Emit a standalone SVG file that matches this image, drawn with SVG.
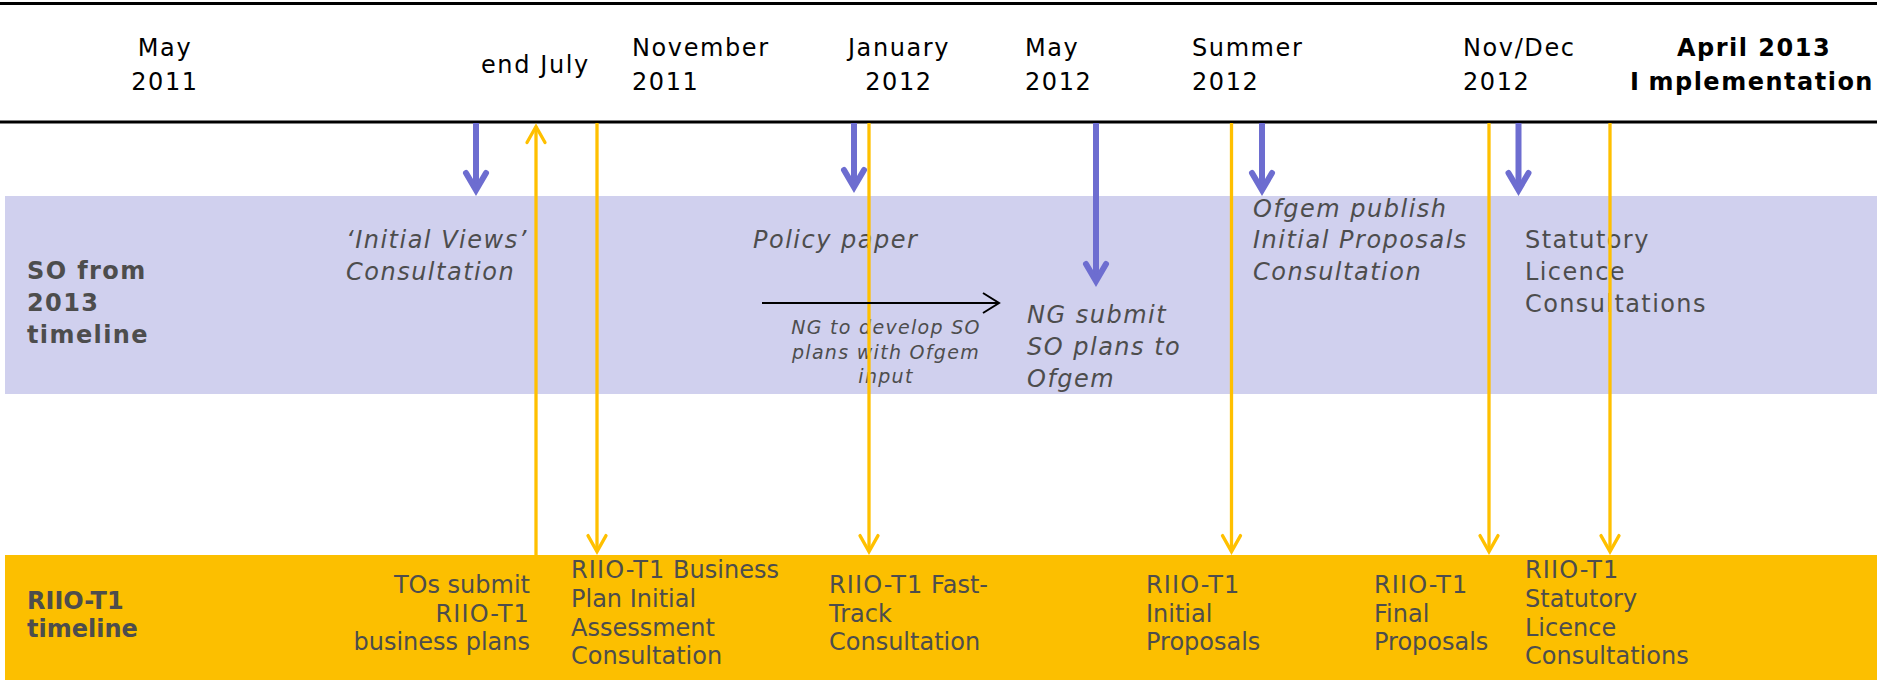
<svg xmlns="http://www.w3.org/2000/svg" width="1877" height="682" viewBox="0 0 1877 682">
  <style>
    .hdr { font-family: "DejaVu Sans", Verdana, sans-serif; font-size: 24px; fill: #000; letter-spacing: 1.6px; }
    .hdrb { font-family: "DejaVu Sans", Verdana, sans-serif; font-size: 24px; font-weight: bold; fill: #000; letter-spacing: 1.5px; }
    .lbl { font-family: "DejaVu Sans", Verdana, sans-serif; font-size: 24px; fill: #4d4d4d; }
    .lblb { font-family: "DejaVu Sans", Verdana, sans-serif; font-size: 24px; font-weight: bold; fill: #4d4d4d; }
    .it { font-family: "DejaVu Sans", Verdana, sans-serif; font-size: 24px; font-style: italic; fill: #4d4d4d; letter-spacing: 1.5px; }
    .small { font-family: "DejaVu Sans", Verdana, sans-serif; font-size: 19px; font-style: italic; fill: #4d4d4d; letter-spacing: 1.3px; }
    .wide { letter-spacing: 1.4px; }
    .code { letter-spacing: 1.1px; }
    .mid { text-anchor: middle; }
    .end { text-anchor: end; }
    .so { stroke: #6d6dd0; stroke-width: 6; fill: none; }
    .riio { stroke: #ffc000; stroke-width: 3.3; fill: none; }
    .flow { stroke: #000; stroke-width: 2; fill: none; }
  </style>
  <defs>
    <marker id="soHead" markerUnits="userSpaceOnUse" orient="auto" overflow="visible" refX="0" refY="0" markerWidth="1" markerHeight="1">
      <path d="M-17,-10 L0,0 L-17,10" fill="none" stroke="#6d6dd0" stroke-width="6" stroke-linecap="round" stroke-linejoin="miter"/>
    </marker>
    <marker id="riioHead" markerUnits="userSpaceOnUse" orient="auto" overflow="visible" refX="0" refY="0" markerWidth="1" markerHeight="1">
      <path d="M-16,-9 L0,0 L-16,9" fill="none" stroke="#ffc000" stroke-width="3.3" stroke-linecap="round" stroke-linejoin="miter"/>
    </marker>
    <marker id="flowHead" markerUnits="userSpaceOnUse" orient="auto" overflow="visible" refX="0" refY="0" markerWidth="1" markerHeight="1">
      <path d="M-16,-10 L0,0 L-16,10" fill="none" stroke="#000" stroke-width="2" stroke-linejoin="miter"/>
    </marker>
  </defs>

  <rect x="0" y="0" width="1877" height="682" fill="#fff"/>

  <!-- swimlane backgrounds -->
  <g id="lane-so">
    <rect x="5" y="196" width="1872" height="198" fill="#d0d0ee"/>
    <text class="lblb wide" x="27" y="279">SO from</text>
    <text class="lblb wide" x="27" y="311">2013</text>
    <text class="lblb wide" x="27" y="343">timeline</text>
  </g>
  <g id="lane-riio">
    <rect x="5" y="555" width="1872" height="125" fill="#fcbf00"/>
    <text class="lblb" x="27" y="609">RIIO-T1</text>
    <text class="lblb" x="27" y="637">timeline</text>
  </g>

  <!-- date header -->
  <g id="header">
    <line x1="0" y1="3.5" x2="1877" y2="3.5" stroke="#000" stroke-width="3"/>
    <line x1="0" y1="122" x2="1877" y2="122" stroke="#000" stroke-width="3"/>
    <g id="date-may-2011">
      <text class="hdr mid" x="165" y="56">May</text>
      <text class="hdr mid" x="165" y="90">2011</text>
    </g>
    <g id="date-end-july">
      <text class="hdr" x="481" y="73">end July</text>
    </g>
    <g id="date-nov-2011">
      <text class="hdr" x="632" y="56">November</text>
      <text class="hdr" x="632" y="90">2011</text>
    </g>
    <g id="date-jan-2012">
      <text class="hdr mid" x="899" y="56">January</text>
      <text class="hdr mid" x="899" y="90">2012</text>
    </g>
    <g id="date-may-2012">
      <text class="hdr" x="1025" y="56">May</text>
      <text class="hdr" x="1025" y="90">2012</text>
    </g>
    <g id="date-summer-2012">
      <text class="hdr" x="1192" y="56">Summer</text>
      <text class="hdr" x="1192" y="90">2012</text>
    </g>
    <g id="date-novdec-2012">
      <text class="hdr" x="1463" y="56">Nov/Dec</text>
      <text class="hdr" x="1463" y="90">2012</text>
    </g>
    <g id="date-apr-2013">
      <text class="hdrb mid" x="1754" y="56">April 2013</text>
      <text class="hdrb mid" x="1752" y="90">I<tspan dx="8">mplementation</tspan></text>
    </g>
  </g>

  <!-- SO lane events -->
  <g id="so-initial-views">
    <text class="it" x="346" y="248">‘Initial Views’</text>
    <text class="it" x="346" y="280">Consultation</text>
  </g>
  <g id="so-policy-paper">
    <text class="it" x="753" y="248">Policy paper</text>
  </g>
  <g id="so-develop-plans">
    <text class="small mid" x="886" y="334">NG to develop SO</text>
    <text class="small mid" x="886" y="358.5">plans with Ofgem</text>
    <text class="small mid" x="886" y="383">input</text>
  </g>
  <g id="so-ng-submit">
    <text class="it" x="1027" y="323">NG submit</text>
    <text class="it" x="1027" y="355">SO plans to</text>
    <text class="it" x="1027" y="387">Ofgem</text>
  </g>
  <g id="so-initial-proposals">
    <text class="it" x="1253" y="217">Ofgem publish</text>
    <text class="it" x="1253" y="248">Initial Proposals</text>
    <text class="it" x="1253" y="280">Consultation</text>
  </g>
  <g id="so-statutory">
    <text class="lbl wide" x="1525" y="248">Statutory</text>
    <text class="lbl wide" x="1525" y="280">Licence</text>
    <text class="lbl wide" x="1525" y="312">Consultations</text>
  </g>

  <!-- RIIO-T1 lane events -->
  <g id="riio-tos-submit">
    <text class="lbl end" x="530" y="593">TOs submit</text>
    <text class="lbl end code" x="530" y="622">RIIO-T1</text>
    <text class="lbl end" x="530" y="650">business plans</text>
  </g>
  <g id="riio-initial-assessment">
    <text class="lbl" x="571" y="578"><tspan class="code">RIIO-T1</tspan> Business</text>
    <text class="lbl" x="571" y="607">Plan Initial</text>
    <text class="lbl" x="571" y="635.5">Assessment</text>
    <text class="lbl" x="571" y="664">Consultation</text>
  </g>
  <g id="riio-fast-track">
    <text class="lbl" x="829" y="593"><tspan class="code">RIIO-T1</tspan> Fast-</text>
    <text class="lbl" x="829" y="622">Track</text>
    <text class="lbl" x="829" y="650">Consultation</text>
  </g>
  <g id="riio-initial-proposals">
    <text class="lbl code" x="1146" y="593">RIIO-T1</text>
    <text class="lbl" x="1146" y="622">Initial</text>
    <text class="lbl" x="1146" y="650">Proposals</text>
  </g>
  <g id="riio-final-proposals">
    <text class="lbl code" x="1374" y="593">RIIO-T1</text>
    <text class="lbl" x="1374" y="622">Final</text>
    <text class="lbl" x="1374" y="650">Proposals</text>
  </g>
  <g id="riio-statutory">
    <text class="lbl code" x="1525" y="578">RIIO-T1</text>
    <text class="lbl" x="1525" y="607">Statutory</text>
    <text class="lbl" x="1525" y="635.5">Licence</text>
    <text class="lbl" x="1525" y="664">Consultations</text>
  </g>

  <!-- connectors -->
  <g id="connectors">
    <line class="riio" x1="536" y1="555" x2="536" y2="126.5" marker-end="url(#riioHead)"/>
    <line class="riio" x1="597" y1="123" x2="597" y2="551.6" marker-end="url(#riioHead)"/>
    <line class="riio" x1="869" y1="123" x2="869" y2="551.6" marker-end="url(#riioHead)"/>
    <line class="riio" x1="1231.5" y1="123" x2="1231.5" y2="551.6" marker-end="url(#riioHead)"/>
    <line class="riio" x1="1489" y1="123" x2="1489" y2="551.6" marker-end="url(#riioHead)"/>
    <line class="riio" x1="1610" y1="123" x2="1610" y2="551.6" marker-end="url(#riioHead)"/>

    <line class="so" x1="476" y1="123" x2="476" y2="190" marker-end="url(#soHead)"/>
    <line class="so" x1="854" y1="123" x2="854" y2="187" marker-end="url(#soHead)"/>
    <line class="so" x1="1096" y1="123" x2="1096" y2="281" marker-end="url(#soHead)"/>
    <line class="so" x1="1262" y1="123" x2="1262" y2="190" marker-end="url(#soHead)"/>
    <line class="so" x1="1518.5" y1="123" x2="1518.5" y2="190" marker-end="url(#soHead)"/>

    <line class="flow" x1="762" y1="303" x2="999" y2="303" marker-end="url(#flowHead)"/>
  </g>
</svg>
